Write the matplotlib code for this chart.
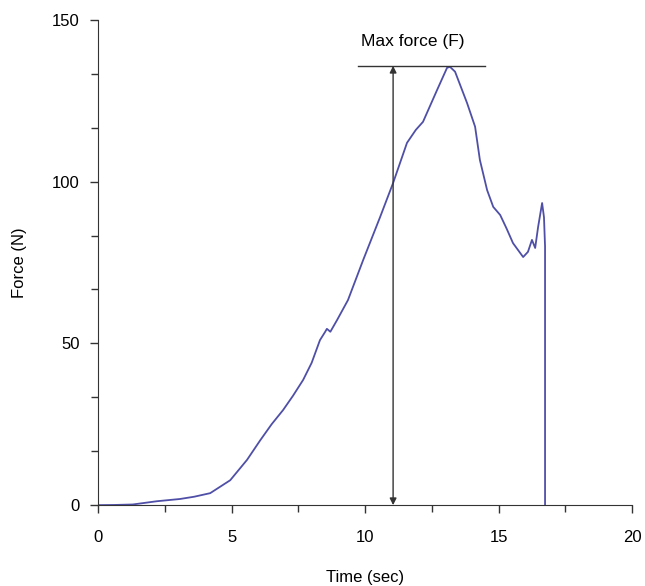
import numpy as np
import matplotlib
matplotlib.use("Agg")
import matplotlib.pyplot as plt
from matplotlib.ticker import MultipleLocator

# ===== data =====
time_s = [0.0, 0.6, 1.3, 2.2, 3.07, 3.6, 4.2, 4.95, 5.58, 6.07, 6.5, 6.93, 7.3,
          7.68, 8.0, 8.31, 8.5, 8.57, 8.7, 8.95, 9.36, 9.93, 10.56, 11.05, 11.57,
          11.9, 12.17, 12.7, 13.07, 13.18, 13.37, 13.82, 14.12, 14.3, 14.57, 14.8,
          15.06, 15.3, 15.54, 15.92, 16.1, 16.25, 16.37, 16.48, 16.63, 16.7,
          16.74, 16.74]
force_n = [0.0, 0.05, 0.2, 1.2, 1.9, 2.6, 3.7, 7.7, 14.0, 20.0, 25.0, 29.4, 33.8,
           38.7, 44.0, 51.0, 53.5, 54.5, 53.6, 57.2, 63.4, 75.8, 89.0, 99.6,
           112.0, 116.0, 118.5, 128.4, 135.2, 135.5, 134.0, 124.3, 117.0, 106.7,
           97.4, 92.2, 89.7, 85.5, 81.0, 76.7, 78.3, 82.0, 79.5, 86.0, 93.4, 89.0,
           80.0, 0.0]

max_force = 135.8
arrow_t = 11.05
bar_span = [9.74, 14.5]

# ===== plot =====
plt.rcParams['font.family'] = ['Liberation Sans', 'DejaVu Sans']
fig = plt.figure(figsize=(6.45, 5.86), dpi=100)
ax = fig.add_axes([0.152, 0.138, 0.828, 0.828])

ax.plot(time_s, force_n, color='#4f4fa8', linewidth=1.3)

ax.annotate('', xy=(arrow_t, max_force), xytext=(arrow_t, 0),
            arrowprops=dict(arrowstyle='<|-|>', color='#333333', lw=1.0,
                            mutation_scale=10, shrinkA=0, shrinkB=0))
ax.plot(bar_span, [max_force, max_force], color='#333333', linewidth=1.0)
ax.text(11.8, 141, 'Max force (F)', ha='center', va='bottom', fontsize=12.5)

ax.set_xlim(0, 20)
ax.set_ylim(0, 150)
ax.xaxis.set_major_locator(MultipleLocator(5))
ax.xaxis.set_minor_locator(MultipleLocator(2.5))
ax.yaxis.set_major_locator(MultipleLocator(50))
ax.yaxis.set_minor_locator(MultipleLocator(50 / 3))
ax.tick_params(which='both', direction='out', labelsize=12, width=1, color='#333333')
ax.tick_params(axis='x', which='major', length=6, pad=12)
ax.tick_params(axis='y', which='major', length=6, pad=7)
ax.tick_params(which='minor', length=5)
for s in ['top', 'right']:
    ax.spines[s].set_visible(False)
for s in ['left', 'bottom']:
    ax.spines[s].set_color('#333333')

ax.set_xlabel('Time (sec)', fontsize=12, labelpad=18)
ax.set_ylabel('Force (N)', fontsize=12, labelpad=18)

fig.savefig('out.png', dpi=100)
